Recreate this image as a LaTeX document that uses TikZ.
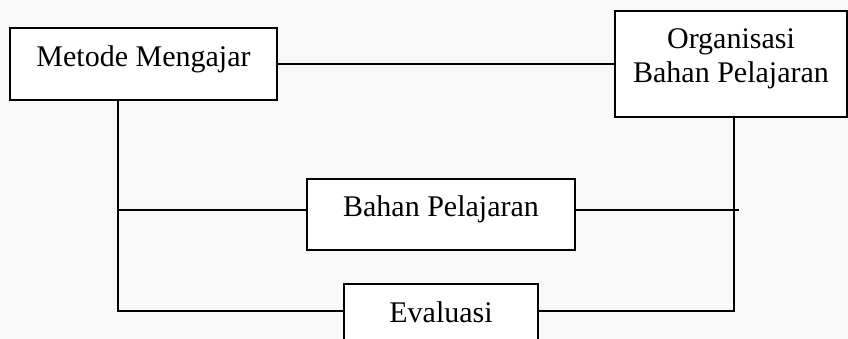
\documentclass[tikz,border=0pt]{standalone}
\usepackage{fontspec}
\setmainfont{Liberation Serif}
\definecolor{bg}{RGB}{248,248,248}
\begin{document}
\begin{tikzpicture}[x=1pt,y=-1pt,
  box/.style={draw=black, fill=white, line width=2pt, inner sep=0pt,
    anchor=north west, font=\fontsize{30}{34}\selectfont},
  conn/.style={draw=black, line width=2pt}]
\useasboundingbox (0,0) rectangle (848,339);
\clip (0,0) rectangle (848,339);
\fill[bg] (0,0) rectangle (848,339);
\coordinate (lx) at (118,0);
\coordinate (rx) at (734,0);
\coordinate (rend) at (739,0);
\coordinate (by) at (0,210);
\coordinate (ey) at (0,311);
\node[box, minimum width=267pt, text height=39pt, text depth=33pt] (m) at (9,27) {Metode Mengajar};
\node[box, minimum width=232pt, minimum height=106pt] (o) at (614,10) {\raisebox{0pt}[\height][\dimexpr\depth+10pt\relax]{\begin{tabular}{@{}c@{}}Organisasi\\Bahan Pelajaran\end{tabular}}};
\node[box, minimum width=268pt, text height=37pt, text depth=34pt] (b) at (306,178) {Bahan Pelajaran};
\node[box, minimum width=194pt, text height=38pt, text depth=34pt] (e) at (343,283) {Evaluasi};
\draw[conn] (m.east) -- (m.east -| o.west);
\draw[conn] (m.south -| lx) -- (lx |- ey) -- (e.west |- ey);
\draw[conn] (lx |- by) -- (b.west |- by);
\draw[conn] (o.south -| rx) -- (rx |- ey) -- (e.east |- ey);
\draw[conn] (b.east |- by) -- (rend |- by);
\end{tikzpicture}
\end{document}
